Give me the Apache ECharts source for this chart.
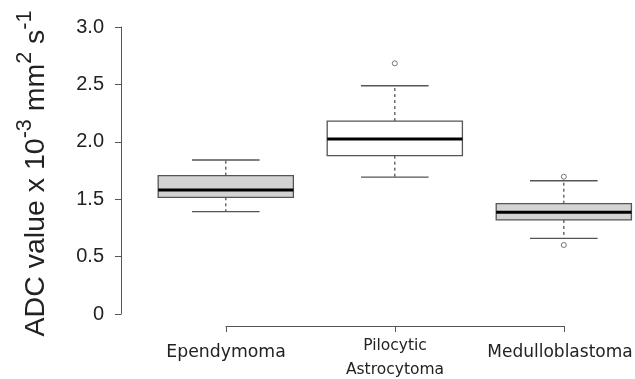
<!DOCTYPE html>
<html>
<head>
<meta charset="utf-8">
<script src="https://cdn.jsdelivr.net/npm/echarts@6/dist/echarts.min.js"></script>
<style>
html,body{margin:0;padding:0;background:#fff;}
#chart{width:635px;height:379px;}
</style>
</head>
<body>
<div id="chart"></div>
<script>
// ---- data ----
var categories = ['Ependymoma', 'Pilocytic\nAstrocytoma', 'Medulloblastoma'];
var positions = [1, 2, 3];
var lowerWhisker = [1.07, 1.43, 0.79];
var q1 = [1.22, 1.655, 0.983];
var median = [1.296, 1.829, 1.063];
var q3 = [1.446, 2.017, 1.153];
var upperWhisker = [1.61, 2.386, 1.393];
var outlierGroup = [2, 3, 3];
var outlierValue = [2.62, 1.435, 0.721];
var yTickLabels = ['0', '0.5', '1.5', '2.0', '2.5', '3.0'];

// ---- style ----
var boxFills = ['#d3d3d3', '#ffffff', '#d3d3d3'];
var labelStyles = ['one', 'two', 'last'];
var lineCol = '#555555';

var boxData = positions.map(function (p, i) {
  return [p, lowerWhisker[i], q1[i], median[i], q3[i], upperWhisker[i], i];
});
var outlierData = outlierGroup.map(function (g, i) { return [g, outlierValue[i]]; });

function renderBox(params, api) {
  var x = api.value(0);
  var lo = api.coord([x, api.value(1)]);
  var b1 = api.coord([x, api.value(2)]);
  var md = api.coord([x, api.value(3)]);
  var b3 = api.coord([x, api.value(4)]);
  var hi = api.coord([x, api.value(5)]);
  var idx = api.value(6);
  var halfBox = api.size([0.8, 0])[0] / 2;
  var halfCap = api.size([0.4, 0])[0] / 2;
  var cx = lo[0];
  var dash = { stroke: lineCol, lineWidth: 1.3, lineDash: [3, 3] };
  var solid = { stroke: lineCol, lineWidth: 1.3 };
  return {
    type: 'group',
    children: [
      { type: 'line', shape: { x1: cx, y1: b3[1], x2: cx, y2: hi[1] }, style: dash },
      { type: 'line', shape: { x1: cx, y1: b1[1], x2: cx, y2: lo[1] }, style: dash },
      { type: 'line', shape: { x1: cx - halfCap, y1: hi[1], x2: cx + halfCap, y2: hi[1] }, style: solid },
      { type: 'line', shape: { x1: cx - halfCap, y1: lo[1], x2: cx + halfCap, y2: lo[1] }, style: solid },
      { type: 'rect', shape: { x: cx - halfBox, y: b3[1], width: 2 * halfBox, height: b1[1] - b3[1] },
        style: { fill: boxFills[idx], stroke: lineCol, lineWidth: 1.3 } },
      { type: 'line', shape: { x1: cx - halfBox, y1: md[1], x2: cx + halfBox, y2: md[1] },
        style: { stroke: '#000', lineWidth: 3 } }
    ]
  };
}

var chart = echarts.init(document.getElementById('chart'), null, { renderer: 'canvas' });
chart.setOption({
  animation: false,
  backgroundColor: '#ffffff',
  grid: [
    { left: 121, top: 27, width: 547.6, height: 287, containLabel: false, outerBoundsMode: 'none' },
    { left: 226, top: 325, width: 338, height: 1, containLabel: false, outerBoundsMode: 'none' }
  ],
  xAxis: [
    { type: 'value', gridIndex: 0, min: 0.38, max: 3.62, show: false },
    { type: 'value', gridIndex: 1, min: 1, max: 3, interval: 1,
      axisLine: { show: true, lineStyle: { color: lineCol, width: 1 } },
      axisTick: { show: true, length: 6, lineStyle: { color: lineCol, width: 1 } },
      splitLine: { show: false },
      axisLabel: {
        margin: 8,
        color: '#222',
        fontFamily: 'DejaVu Sans',
        fontSize: 16,
        formatter: function (v) {
          var i = Math.round(v) - 1;
          return '{' + labelStyles[i] + '|' + categories[i] + '}';
        },
        rich: {
          one: { fontFamily: 'DejaVu Sans', fontSize: 17.3, color: '#222', lineHeight: 38 },
          two: { fontFamily: 'DejaVu Sans', fontSize: 15.5, color: '#222', lineHeight: 24 },
          last: { fontFamily: 'DejaVu Sans', fontSize: 17, color: '#222', lineHeight: 38, padding: [0, 8, 0, 0] }
        }
      }
    }
  ],
  yAxis: [
    { type: 'value', gridIndex: 0, min: 0, max: 3, interval: 0.6,
      axisLine: { show: true, lineStyle: { color: lineCol, width: 1 } },
      axisTick: { show: true, length: 6, lineStyle: { color: lineCol, width: 1 } },
      splitLine: { show: false },
      axisLabel: {
        margin: 17, color: '#222', fontFamily: 'Liberation Sans', fontSize: 20,
        formatter: function (v, i) { return yTickLabels[i]; }
      },
      name: '{m|ADC value x 10}{s|-3}{m| mm}{s|2}{m| s}{s|-1}',
      nameLocation: 'middle',
      nameRotate: 90,
      nameGap: 70,
      nameTextStyle: {
        padding: [0, 6, 0, 0],
        rich: {
          m: { fontFamily: 'Liberation Sans', fontSize: 28.5, color: '#222', verticalAlign: 'bottom' },
          s: { fontFamily: 'Liberation Sans', fontSize: 21.5, color: '#222', verticalAlign: 'bottom', padding: [0, 0, 15, 0] }
        }
      }
    },
    { type: 'value', gridIndex: 1, min: 0, max: 1, show: false }
  ],
  series: [
    { type: 'custom', xAxisIndex: 0, yAxisIndex: 0, renderItem: renderBox, data: boxData, clip: false, z: 2 },
    { type: 'scatter', xAxisIndex: 0, yAxisIndex: 0, data: outlierData, symbol: 'circle', symbolSize: 5,
      itemStyle: { color: '#ffffff', borderColor: lineCol, borderWidth: 1 }, z: 3 }
  ]
});
</script>
</body>
</html>
